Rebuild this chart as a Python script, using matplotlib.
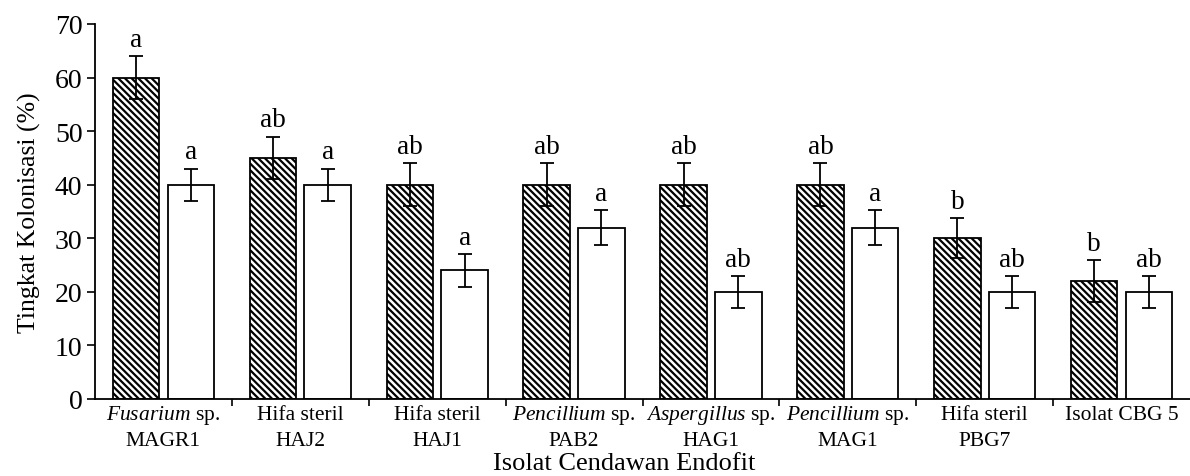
import numpy as np
import matplotlib.pyplot as plt

plt.rcParams['font.family'] = 'Liberation Serif'
plt.rcParams['mathtext.fontset'] = 'custom'
plt.rcParams['mathtext.rm'] = 'Liberation Serif'
plt.rcParams['mathtext.it'] = 'Liberation Serif:italic'
plt.rcParams['hatch.linewidth'] = 1.6

# data
isolat_baris1 = [r'$\it{Fusarium}$ sp.', 'Hifa steril', 'Hifa steril', r'$\it{Pencillium}$ sp.',
                 r'$\it{Aspergillus}$ sp.', r'$\it{Pencillium}$ sp.', 'Hifa steril', 'Isolat CBG 5']
isolat_baris2 = ['MAGR1', 'HAJ2', 'HAJ1', 'PAB2', 'HAG1', 'MAG1', 'PBG7', '']
hatched_vals = [60, 45, 40, 40, 40, 40, 30, 22]
hatched_err = [4, 4, 4, 4, 4, 4, 3.7, 3.9]
hatched_notasi = ['a', 'ab', 'ab', 'ab', 'ab', 'ab', 'b', 'b']
open_vals = [40, 40, 24, 32, 20, 32, 20, 20]
open_err = [3, 3, 3, 3.2, 3, 3.2, 3, 3]
open_notasi = ['a', 'a', 'a', 'a', 'ab', 'a', 'ab', 'ab']

x = np.arange(len(isolat_baris1))
w = 0.34
off = 0.2

fig = plt.figure(figsize=(11.9, 4.77), dpi=100)
ax = fig.add_axes([95/1190, 77/477, 1 - 95/1190, (400 - 25)/477])

ax.bar(x - off, hatched_vals, w, color='white', edgecolor='black', hatch='\\\\\\\\\\', linewidth=1.3)
ax.bar(x + off, open_vals, w, color='white', edgecolor='black', linewidth=1.3)
ax.errorbar(x - off, hatched_vals, yerr=hatched_err, fmt='none', ecolor='black', elinewidth=1.3, capsize=5, capthick=1.3)
ax.errorbar(x + off, open_vals, yerr=open_err, fmt='none', ecolor='black', elinewidth=1.3, capsize=5, capthick=1.3)

for xi, v, e, t in zip(x - off, hatched_vals, hatched_err, hatched_notasi):
    ax.annotate(t, (xi, v + e), xytext=(0, 3), textcoords='offset points', ha='center', va='bottom', fontsize=19.5)
for xi, v, e, t in zip(x + off, open_vals, open_err, open_notasi):
    ax.annotate(t, (xi, v + e), xytext=(0, 3), textcoords='offset points', ha='center', va='bottom', fontsize=19.5)

# label isolat dua baris
trans = ax.get_xaxis_transform()
for xi, l1, l2 in zip(x, isolat_baris1, isolat_baris2):
    ax.text(xi, -20/375, l1, transform=trans, ha='center', va='baseline', fontsize=15.5)
    ax.text(xi, -46/375, l2, transform=trans, ha='center', va='baseline', fontsize=15.5)

ax.set_xlim(-0.5, 7.5)
ax.set_ylim(0, 70)
ax.set_yticks(np.arange(0, 71, 10))
ax.set_xticks(np.arange(0.5, 7.5, 1))
ax.set_xticklabels([])
ax.tick_params(axis='x', which='major', length=5, width=1.2, direction='out')
ax.tick_params(axis='y', labelsize=20, length=6, width=1.2, direction='out', pad=3)
for s in ['top', 'right']:
    ax.spines[s].set_visible(False)
for s in ['left', 'bottom']:
    ax.spines[s].set_linewidth(1.3)

ax.set_ylabel('Tingkat Kolonisasi (%)', fontsize=18.5, labelpad=10)
fig.text(624/1190, 2/477, 'Isolat Cendawan Endofit', ha='center', va='bottom', fontsize=19)

fig.savefig('out.png', dpi=100)
